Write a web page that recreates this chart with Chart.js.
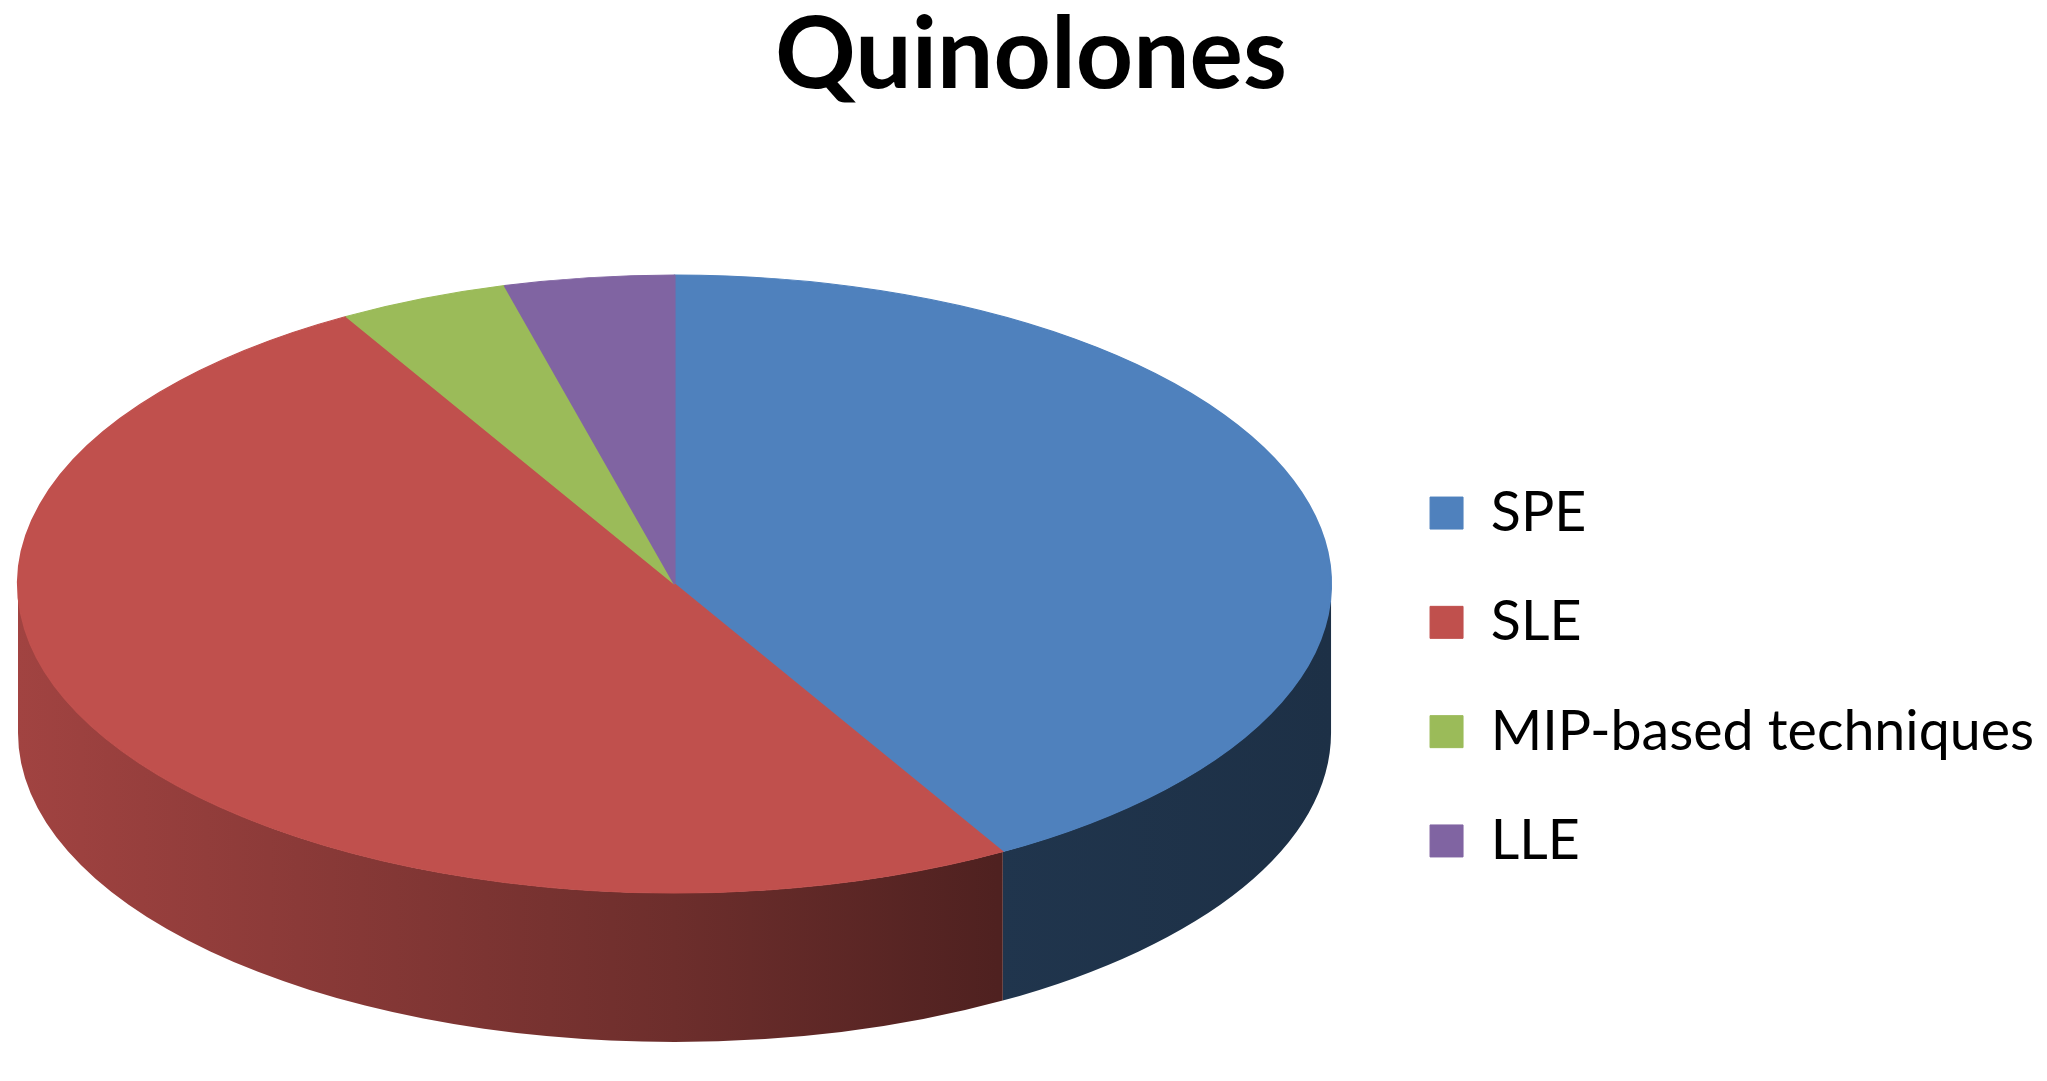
<!DOCTYPE html>
<html><head><meta charset="utf-8">
<script src="https://cdn.jsdelivr.net/npm/chart.js@4.4.0/dist/chart.umd.min.js"></script>
<style>html,body{margin:0;padding:0;background:#fff;overflow:hidden}#wrap{width:2047px;height:1081px;position:relative}</style>
</head><body><div id="wrap"><canvas id="c"></canvas></div>
<script>
const categories = ['SPE', 'SLE', 'MIP-based techniques', 'LLE'];
const values = [10, 12, 1, 1];
const sliceColors = ['#4F81BD', '#C0504D', '#9BBB59', '#8064A2'];
const chartTitle = 'Quinolones';

// 3D look (style constants)
const PIE_WIDTH_SCALE = 2.031;
const PIE_TILT = 0.4707;
const DEPTH_RATIO = 0.482;

function shade(hex, f) {
  const n = parseInt(hex.slice(1), 16);
  const r = Math.round(((n >> 16) & 255) * f), g = Math.round(((n >> 8) & 255) * f), b = Math.round((n & 255) * f);
  return 'rgb(' + r + ',' + g + ',' + b + ')';
}

const pie3d = {
  id: 'pie3d',
  beforeDatasetsDraw(chart) {
    const meta = chart.getDatasetMeta(0);
    const arcs = meta.data;
    const ctx = chart.ctx;
    ctx.save();
    if (!arcs.length) return;
    const a0 = arcs[0];
    const r = a0.outerRadius;
    const area = chart.chartArea;
    const rx = r * PIE_WIDTH_SCALE, ry = rx * PIE_TILT;
    const ex = area.left + rx, ey = area.top + ry;
    const depth = ry * DEPTH_RATIO;
    const TAU = Math.PI * 2;
    arcs.forEach((arc, i) => {
      const base = sliceColors[i % sliceColors.length];
      for (let k = -2; k <= 2; k++) {
        const a = Math.max(arc.startAngle + k * TAU, 0);
        const b = Math.min(arc.endAngle + k * TAU, Math.PI);
        if (b <= a) continue;
        const g = ctx.createLinearGradient(ex - rx, 0, ex + rx, 0);
        g.addColorStop(0, shade(base, 0.84));
        g.addColorStop(0.5, shade(base, 0.57));
        g.addColorStop(0.746, shade(base, 0.41));
        g.addColorStop(1, shade(base, 0.37));
        ctx.beginPath();
        ctx.ellipse(ex, ey, rx, ry, 0, a, b, false);
        ctx.ellipse(ex, ey + depth, rx, ry, 0, b, a, true);
        ctx.closePath();
        ctx.fillStyle = g;
        ctx.fill();
      }
    });
    ctx.translate(ex, ey);
    ctx.scale(rx / r, ry / r);
    ctx.translate(-a0.x, -a0.y);
  },
  afterDatasetsDraw(chart) {
    chart.ctx.restore();
  }
};

Chart.defaults.color = '#000';
new Chart(document.getElementById('c'), {
  type: 'pie',
  data: {
    labels: categories,
    datasets: [{
      data: values,
      backgroundColor: sliceColors,
      borderColor: sliceColors,
      borderWidth: 1,
      clip: false
    }]
  },
  options: {
    responsive: true,
    maintainAspectRatio: false,
    animation: false,
    events: [],
    layout: { padding: { left: 18, right: 3, top: 0, bottom: 158.5 } },
    plugins: {
      title: {
        display: true,
        text: chartTitle,
        color: '#000',
        font: { family: 'Lato', size: 100, weight: 'bold', lineHeight: 0.9 },
        padding: { top: 11, bottom: 174 }
      },
      legend: {
        position: 'right',
        align: 'end',
        labels: {
          font: { family: 'Lato', size: 55.5 },
          color: '#000',
          boxWidth: 33,
          boxHeight: 32,
          padding: 53.8
        }
      },
      tooltip: { enabled: false }
    }
  },
  plugins: [pie3d]
});
</script>
</body></html>
